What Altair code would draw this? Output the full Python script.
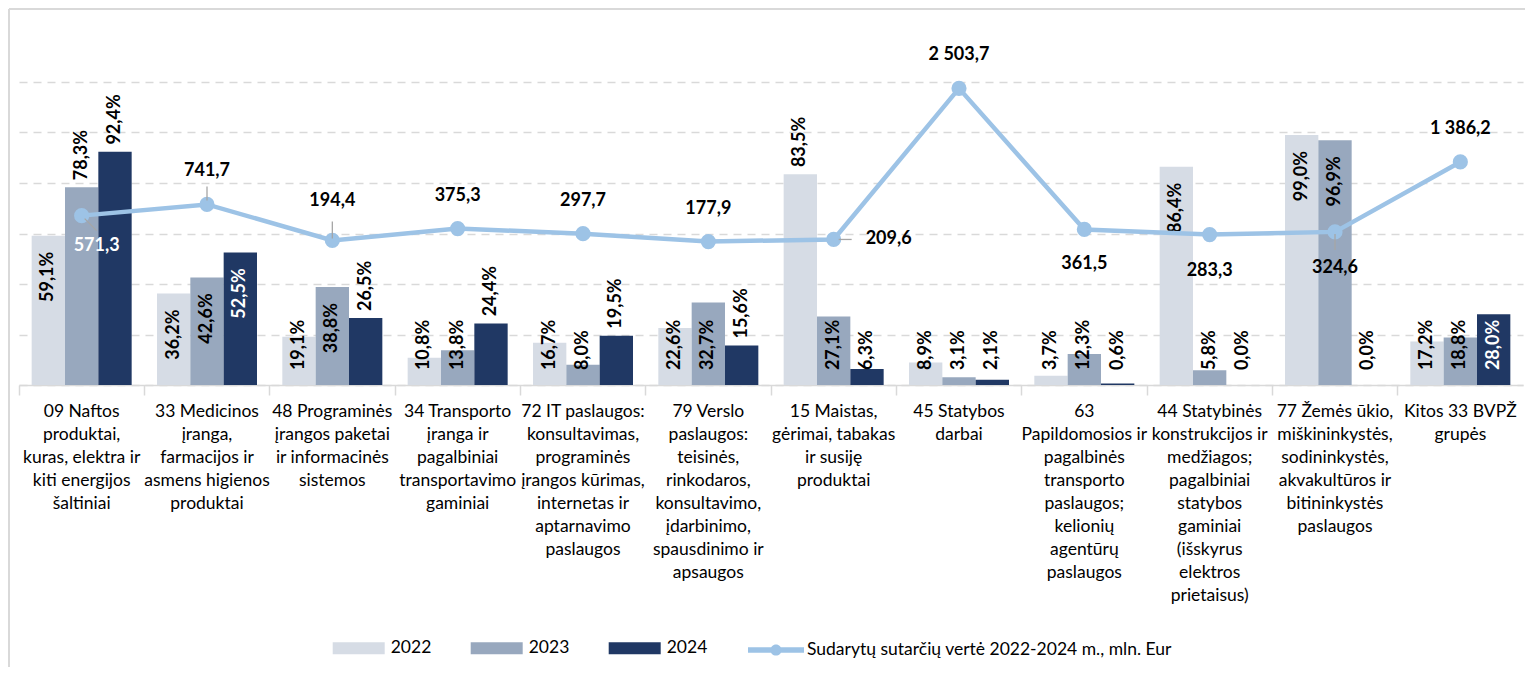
import altair as alt
import pandas as pd

# ---------------- data ----------------
CATEGORY_LINES = [
    ["09 Naftos", "produktai,", "kuras, elektra ir", "kiti energijos", "šaltiniai"],
    ["33 Medicinos", "įranga,", "farmacijos ir", "asmens higienos", "produktai"],
    ["48 Programinės", "įrangos paketai", "ir informacinės", "sistemos"],
    ["34 Transporto", "įranga ir", "pagalbiniai", "transportavimo", "gaminiai"],
    ["72 IT paslaugos:", "konsultavimas,", "programinės", "įrangos kūrimas,", "internetas ir", "aptarnavimo", "paslaugos"],
    ["79 Verslo", "paslaugos:", "teisinės,", "rinkodaros,", "konsultavimo,", "įdarbinimo,", "spausdinimo ir", "apsaugos"],
    ["15 Maistas,", "gėrimai, tabakas", "ir susiję", "produktai"],
    ["45 Statybos", "darbai"],
    ["63", "Papildomosios ir", "pagalbinės", "transporto", "paslaugos;", "kelionių", "agentūrų", "paslaugos"],
    ["44 Statybinės", "konstrukcijos ir", "medžiagos;", "pagalbiniai", "statybos", "gaminiai", "(išskyrus", "elektros", "prietaisus)"],
    ["77 Žemės ūkio,", "miškininkystės,", "sodininkystės,", "akvakultūros ir", "bitininkystės", "paslaugos"],
    ["Kitos 33 BVPŽ", "grupės"],
]
YEARS = ["2022", "2023", "2024"]
SHARE_2022 = [59.1, 36.2, 19.1, 10.8, 16.7, 22.6, 83.5, 8.9, 3.7, 86.4, 99.0, 17.2]
SHARE_2023 = [78.3, 42.6, 38.8, 13.8, 8.0, 32.7, 27.1, 3.1, 12.3, 5.8, 96.9, 18.8]
SHARE_2024 = [92.4, 52.5, 26.5, 24.4, 19.5, 15.6, 6.3, 2.1, 0.6, 0.0, 0.0, 28.0]
CONTRACT_VALUE = [571.3, 741.7, 194.4, 375.3, 297.7, 177.9, 209.6, 2503.7, 361.5, 283.3, 324.6, 1386.2]
LINE_SERIES = "Sudarytų sutarčių vertė 2022-2024 m., mln. Eur"

BAR_COLORS = ["#D6DCE5", "#98A8BE", "#203864"]
LINE_COLOR = "#9DC3E6"
GRID = "#D9D9D9"
LEADER = "#A6A6A6"
FONT = "Lato"

# label placement (layout, not data)
INSIDE = {(0, "2022"), (1, "2022"), (1, "2023"), (1, "2024"), (2, "2023"),
          (9, "2022"), (10, "2022"), (10, "2023")}
OUTSIDE = {(0, "2023"), (0, "2024"), (2, "2024"), (3, "2024"), (4, "2024"),
           (5, "2024"), (6, "2022")}
WHITE = {(1, "2024"), (11, "2024")}
LINE_LABEL_OFFSET = {0: (15, 30, "white"), 2: (0, -39, "black"), 6: (55, 0, "black"),
                     8: (0, 35, "black"), 9: (0, 36, "black"), 10: (0, 36, "black")}
DEFAULT_LINE_OFFSET = (0, -33, "black")
# leader lines: index -> (xOffset, yOffset, x2Offset, y2Offset) in pixels
LEADER_LINES = {0: (3, 3, 15, 15), 1: (0, -4, 0, -18), 2: (0, -2, 0, -19),
                6: (5, 0, 18, 0), 10: (0, 2, 0, 18)}


def pct(v):
    return f"{v:.1f}".replace(".", ",") + "%"


def num(v):
    return f"{v:,.1f}".replace(",", " ").replace(".", ",")


CATS = ["|".join(lines) for lines in CATEGORY_LINES]

rows = []
for i, c in enumerate(CATS):
    for y, series in zip(YEARS, [SHARE_2022, SHARE_2023, SHARE_2024]):
        v = series[i]
        key = (i, y)
        if key in INSIDE:
            mode, ly = "in", v - 6.3
        elif key in OUTSIDE:
            mode, ly = "out", v + 2.8
        else:
            mode, ly = "base", 5.9
        rows.append(dict(cat=c, year=y, value=v, label=pct(v), mode=mode, ly=ly,
                         white=int(key in WHITE)))
bar_df = pd.DataFrame(rows)

line_rows = []
for i, c in enumerate(CATS):
    dx, dy, col = LINE_LABEL_OFFSET.get(i, DEFAULT_LINE_OFFSET)
    line_rows.append(dict(idx=i, cat=c, value=CONTRACT_VALUE[i], label=num(CONTRACT_VALUE[i]),
                          series=LINE_SERIES, dx=dx, dy=dy, col=col))
line_df = pd.DataFrame(line_rows)

# ---------------- encodings ----------------
X = alt.X(
    "cat:N", sort=CATS, title=None,
    scale=alt.Scale(paddingInner=0, paddingOuter=0),
    axis=alt.Axis(
        labelExpr="split(datum.label, '|')", labelAngle=0, labelFont=FONT,
        labelFontSize=17.5, labelLineHeight=23, labelColor="#000000",
        labelBaseline="top", labelPadding=7, labelLimit=300, labelOverlap=False,
        labelBound=False, bandPosition=0,
        domainColor=GRID, domainWidth=1.5, tickColor=GRID, tickWidth=1.5, tickSize=10,
    ),
)
XOFF = alt.XOffset("year:N", sort=YEARS, scale=alt.Scale(paddingInner=0, paddingOuter=0.38))
Y_AXIS = alt.Axis(values=[0, 20, 40, 60, 80, 100, 120], grid=True, gridDash=[8, 6],
                  gridColor=GRID, gridWidth=1.3, labels=False, ticks=False,
                  domain=False, title=None)
Y_SCALE = alt.Scale(domain=[0, 120], nice=False)

bars = alt.Chart(bar_df).mark_bar(strokeWidth=0).encode(
    x=X, xOffset=XOFF,
    y=alt.Y("value:Q", scale=Y_SCALE, axis=Y_AXIS),
    color=alt.Color(
        "year:N", sort=YEARS, scale=alt.Scale(domain=YEARS, range=BAR_COLORS),
        legend=alt.Legend(
            orient="none", legendX=313.7, legendY=540, direction="horizontal",
            title=None, symbolType="M-1,-0.23H1V0.23H-1Z", symbolSize=2704,
            symbolStrokeWidth=0, labelFont=FONT, labelFontSize=17.5,
            labelColor="#000000", labelOffset=6, columnPadding=39, padding=0,
        ),
    ),
)

text_color = alt.condition("datum.white == 1", alt.value("white"), alt.value("black"))

bar_text_up = alt.Chart(bar_df).transform_filter("datum.mode != 'in'").mark_text(
    angle=270, align="left", baseline="middle", font=FONT, fontSize=18, fontWeight="bold"
).encode(x=X, xOffset=XOFF, y=alt.Y("ly:Q", scale=Y_SCALE, axis=Y_AXIS),
         text="label:N", color=text_color)

bar_text_in = alt.Chart(bar_df).transform_filter("datum.mode == 'in'").mark_text(
    angle=270, align="right", baseline="middle", font=FONT, fontSize=18, fontWeight="bold"
).encode(x=X, xOffset=XOFF, y=alt.Y("ly:Q", scale=Y_SCALE, axis=Y_AXIS),
         text="label:N", color=text_color)

frame_df = pd.DataFrame({"k": [0]})
frame_top = alt.Chart(frame_df).mark_rule(color=GRID, strokeWidth=2).encode(
    x=alt.value(-10), x2=alt.value(1520), y=alt.value(-73))
frame_left = alt.Chart(frame_df).mark_rule(color=GRID, strokeWidth=2).encode(
    x=alt.value(-10), y=alt.value(-73), y2=alt.value(600))

bar_part = alt.layer(bars, bar_text_up, bar_text_in, frame_top, frame_left)

LY = alt.Y("value:Q", scale=alt.Scale(domain=[-2000, 2600], nice=False), axis=None)

line = alt.Chart(line_df).mark_line(color=LINE_COLOR, strokeWidth=4.5).encode(x=X, y=LY)
points = alt.Chart(line_df).mark_circle(size=230, opacity=1).encode(
    x=X, y=LY,
    fill=alt.Fill(
        "series:N", scale=alt.Scale(domain=[LINE_SERIES], range=[LINE_COLOR]),
        legend=alt.Legend(
            orient="none", legendX=729, legendY=540, title=None,
            symbolType="M-1,-0.1H1V0.1H-1Z M0.2,0A0.2,0.2 0 1,1 -0.2,0A0.2,0.2 0 1,1 0.2,0Z",
            symbolSize=3136, symbolStrokeWidth=0, labelFont=FONT, labelFontSize=17.5,
            labelColor="#000000", labelOffset=3, padding=0, labelLimit=600,
        ),
    ),
)

leader_layers = []
for idx, (xo, yo, x2o, y2o) in LEADER_LINES.items():
    leader_layers.append(
        alt.Chart(line_df)
        .transform_filter(f"datum.idx == {idx}")
        .mark_rule(color=LEADER, strokeWidth=1.3, xOffset=xo, yOffset=yo,
                   x2Offset=x2o, y2Offset=y2o)
        .encode(x=X, x2="cat:N", y=LY, y2="value:Q")
    )

label_layers = []
for (dx, dy, col) in sorted(set(zip(line_df.dx, line_df.dy, line_df.col))):
    label_layers.append(
        alt.Chart(line_df)
        .transform_filter(f"datum.dx == {dx} && datum.dy == {dy}")
        .mark_text(dx=dx, dy=dy, align="center", baseline="middle", font=FONT,
                   fontSize=18, fontWeight="bold", color=col)
        .encode(x=X, y=LY, text="label:N")
    )

line_part = alt.layer(line, points, *leader_layers, *label_layers)

chart = (
    alt.layer(bar_part, line_part)
    .resolve_scale(y="independent")
    .properties(
        width=1504, height=303,
        padding={"left": 11, "top": 74, "right": 2, "bottom": 282},
        autosize=alt.AutoSizeParams(type="none"),
    )
    .configure(font=FONT)
    .configure_view(stroke=None)
)

chart.save("out.html", embed_options={"renderer": "svg", "actions": False})
